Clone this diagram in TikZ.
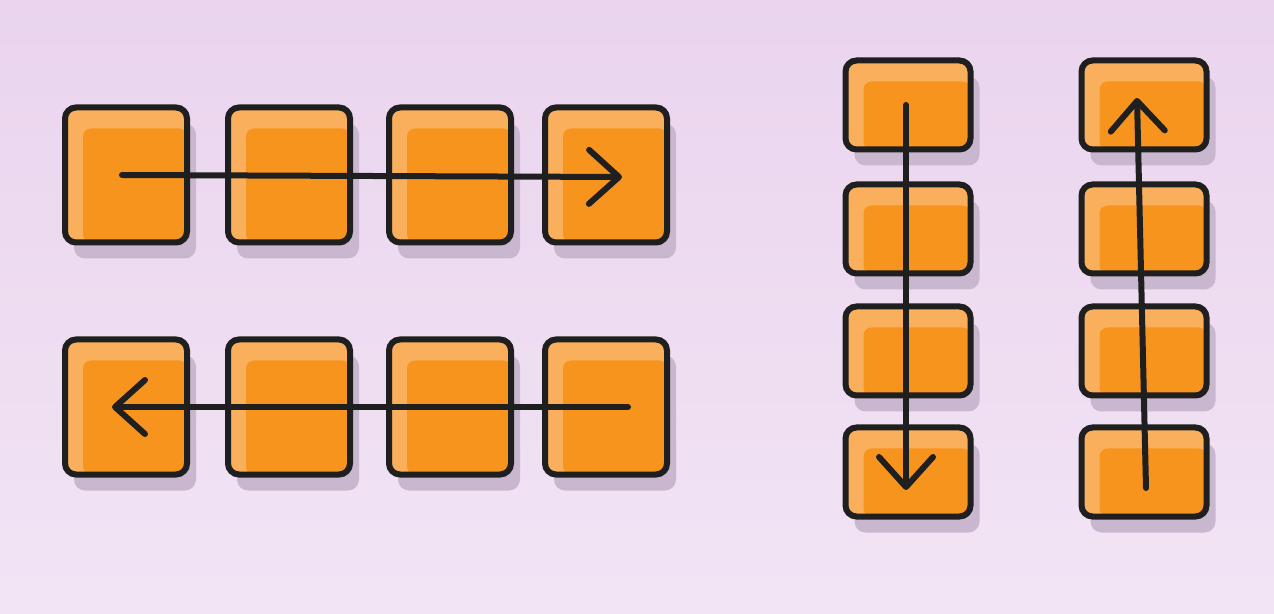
\documentclass[tikz,border=0pt]{standalone}
\usetikzlibrary{arrows.meta}
\usetikzlibrary{shadows}
\definecolor{bgtop}{HTML}{EAD4EE}
\definecolor{bgbot}{HTML}{F2E4F5}
\definecolor{ink}{HTML}{1F1F1F}
\definecolor{boxorange}{HTML}{F7941E}
\definecolor{glow}{HTML}{F9AF5B}
\definecolor{shade}{HTML}{C9B7CF}
\tikzset{
    tile/.style={draw=ink, line width=3pt, fill=glow, rounded corners=5.5pt,
        inner sep=0pt, outer sep=0pt,
        drop shadow={fill=shade, opacity=1, shadow xshift=4.5pt, shadow yshift=-8pt},
        path picture={ % la partie foncee
            \fill[boxorange, rounded corners=4pt]
                ([shift={(9pt,-10.5pt)}]path picture bounding box.north west)
                rectangle (path picture bounding box.south east);}},
    wide/.style={tile, minimum width=61pt, minimum height=67.5pt},
    flat/.style={tile, minimum width=62.5pt, minimum height=44.5pt},
    flow/.style={draw=ink, line width=3pt, line cap=round,
        -{Straight Barb[length=15pt,width=27pt,round]}}
}
\begin{document}
\begin{tikzpicture}[x=0.5pt,y=-0.5pt]
    \fill[top color=bgtop,bottom color=bgbot] (0,0) rectangle (1274,614);
    % lignes
    \foreach \x [count=\i] in {126,289,450,606} {
        \node[wide] (r\i) at (\x,175) {};
        \node[wide] (l\i) at (\x,407) {};
    }
    % colonnes
    \foreach \y [count=\i] in {105,229,351,472} {
        \node[flat] (d\i) at (908,\y) {};
        \node[flat] (u\i) at (1144,\y) {};
    }
    \draw[flow] ([xshift=-2pt]r1.center) -- ([xshift=8pt,yshift=-1pt]r4.center);
    \draw[flow] ([xshift=11pt]l4.center) -- ([xshift=-7pt]l1.center);
    \draw[flow] ([xshift=-1pt]d1.center) -- ([xshift=-1pt,yshift=-9pt]d4.center);
    \draw[flow] ([xshift=1pt,yshift=-8pt]u4.center) -- ([xshift=-3.5pt,yshift=3.5pt]u1.center);
\end{tikzpicture}
\end{document}
